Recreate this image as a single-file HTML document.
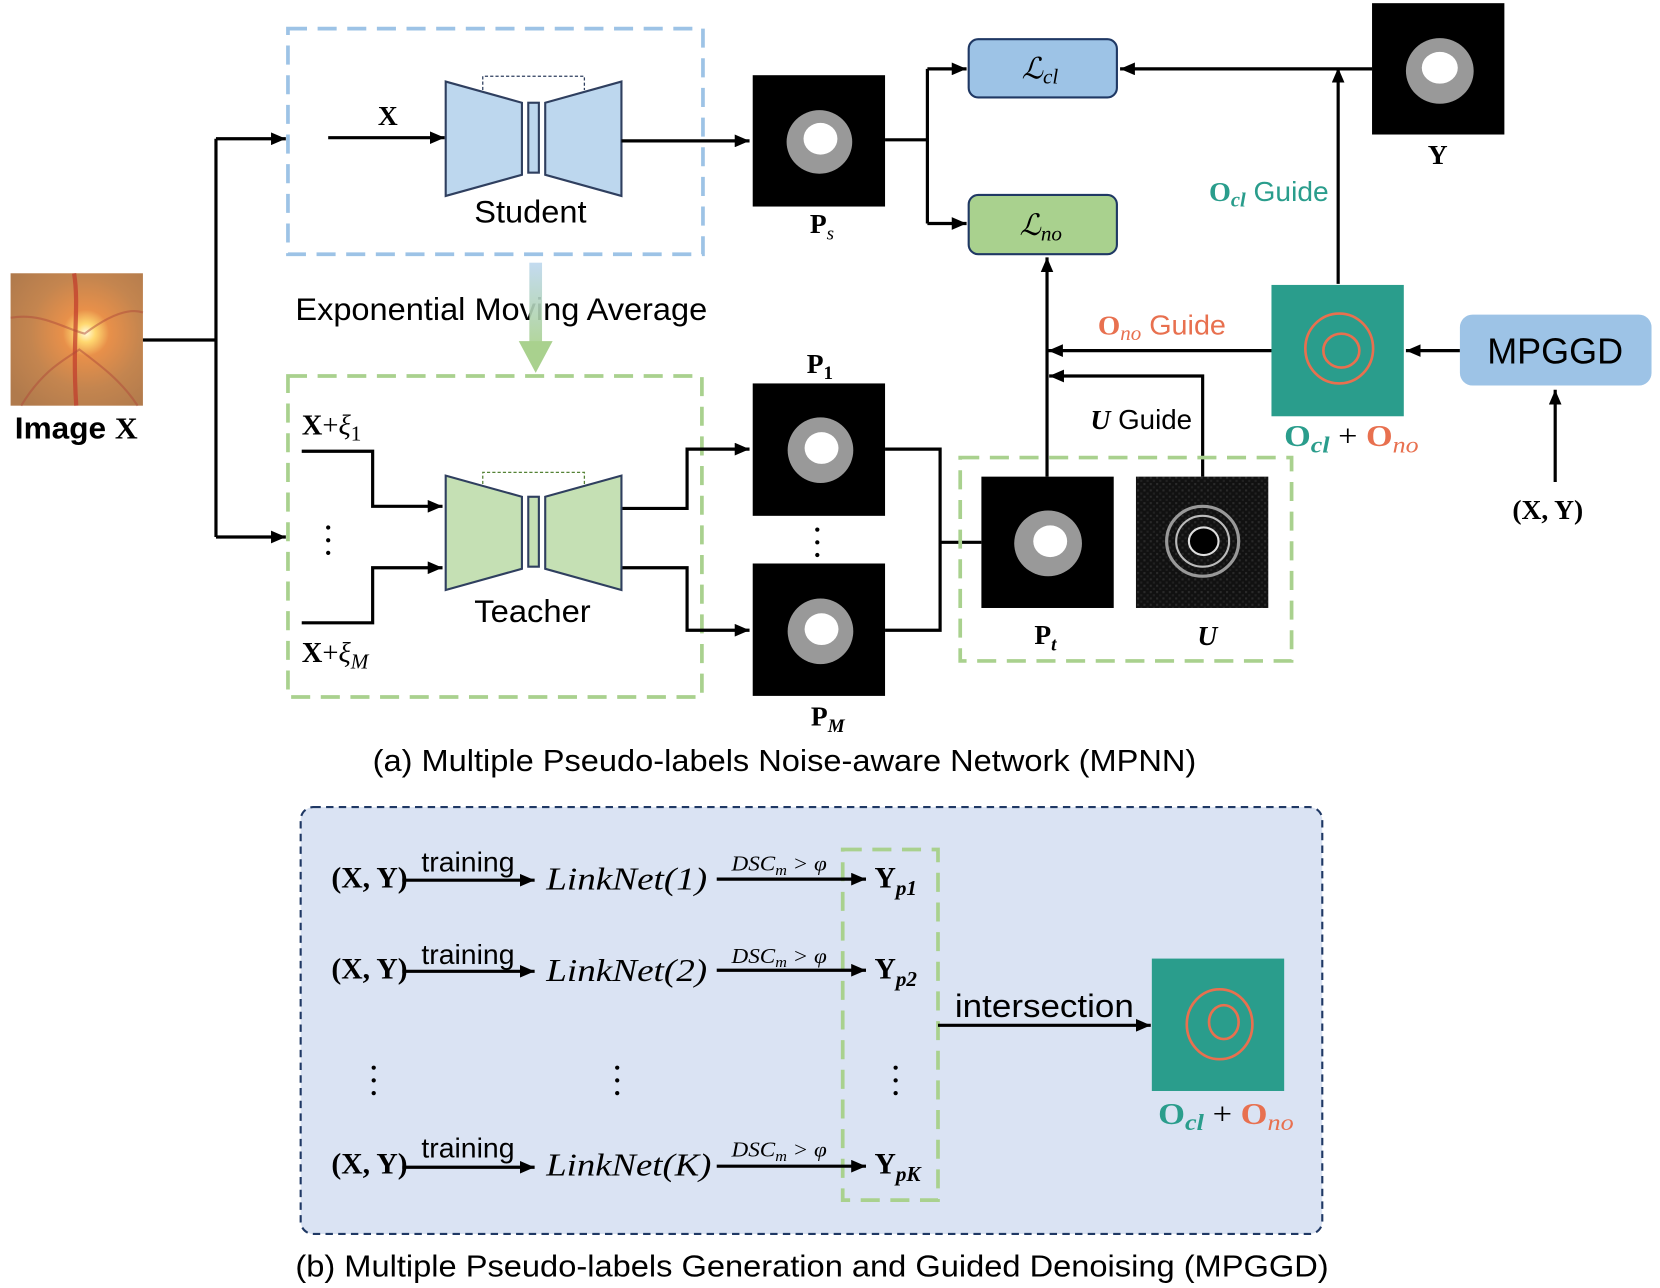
<!DOCTYPE html>
<html><head><meta charset="utf-8"><style>
html,body{margin:0;padding:0;background:#fff;}
svg{display:block}
.s{font-family:"Liberation Sans",sans-serif}
.r{font-family:"Liberation Serif",serif}
</style></head><body>
<svg width="1660" height="1288" viewBox="0 0 1568 1216" preserveAspectRatio="none" xmlns="http://www.w3.org/2000/svg">
<defs>
<marker id="b" viewBox="0 0 14 12" refX="14" refY="6" markerWidth="14" markerHeight="12" orient="auto" markerUnits="userSpaceOnUse"><path d="M0,0 L14,6 L0,12 z" fill="#000"/></marker>
<radialGradient id="fg" cx="0.57" cy="0.45" r="0.7">
<stop offset="0" stop-color="#fffbe0"/><stop offset="0.1" stop-color="#ffd870"/><stop offset="0.25" stop-color="#e8904a"/><stop offset="0.6" stop-color="#c4854f"/><stop offset="1" stop-color="#b07a4c"/></radialGradient>
<linearGradient id="ema" x1="0" y1="0" x2="0" y2="1"><stop offset="0" stop-color="#bdd7ee"/><stop offset="1" stop-color="#a9d18e"/></linearGradient>
<pattern id="noise" width="6" height="6" patternUnits="userSpaceOnUse"><rect width="6" height="6" fill="#111"/><rect x="0" y="0" width="2" height="2" fill="#2a2a2a"/><rect x="3" y="3" width="2" height="2" fill="#222"/></pattern>
</defs>

<rect x="10" y="258" width="125" height="125" fill="url(#fg)"/>
<path d="M70,258 C75,290 68,320 72,383" stroke="#c0392b" stroke-width="4" fill="none" opacity="0.7"/>
<path d="M10,300 C40,295 60,310 80,315 C100,300 120,290 135,295" stroke="#b04a3a" stroke-width="2" fill="none" opacity="0.5"/>
<path d="M20,383 C40,350 60,340 75,330 C95,345 115,360 130,383" stroke="#b04a3a" stroke-width="2" fill="none" opacity="0.5"/>
<text x="14" y="414" class="s" font-size="29" font-weight="bold" textLength="116" lengthAdjust="spacingAndGlyphs">Image <tspan class="r">X</tspan></text>

<g stroke="#000" stroke-width="3" fill="none">
<path d="M135,321 H204 M204,131 V507"/>
<path d="M204,131 H270" marker-end="url(#b)"/>
<path d="M204,507 H270" marker-end="url(#b)"/>
</g>

<rect x="272" y="27" width="392" height="213" fill="none" stroke="#9dc3e6" stroke-width="3.5" stroke-dasharray="18,10"/>
<text x="357" y="118" class="r" font-size="26" font-weight="bold">X</text>
<path d="M310,130 H420" stroke="#000" stroke-width="3" marker-end="url(#b)"/>
<g fill="#bdd7ee" stroke="#2f3f5f" stroke-width="2">
<path d="M421,77 L493,97 L493,165 L421,185 Z"/><rect x="499" y="97" width="10" height="66"/><path d="M515,97 L587,77 L587,185 L515,165 Z"/>
</g>
<path d="M456,85 V72 H552 V85" fill="none" stroke="#2f3f5f" stroke-width="1.2" stroke-dasharray="3,2"/>
<text x="448" y="210" class="s" font-size="30" textLength="106" lengthAdjust="spacingAndGlyphs">Student</text>
<path d="M587,133 H708" stroke="#000" stroke-width="3" marker-end="url(#b)"/>

<rect x="711" y="71" width="125" height="124" fill="#000"/>
<ellipse cx="774" cy="134" rx="31" ry="30" fill="#999"/><ellipse cx="775" cy="131" rx="16" ry="15" fill="#fff"/>
<text x="765" y="220" class="r" font-size="26" font-weight="bold">P<tspan font-size="18" font-style="italic" font-weight="normal" dy="6">s</tspan></text>

<g stroke="#000" stroke-width="3" fill="none">
<path d="M836,132 H876 M876,65 V211"/>
<path d="M876,65 H913" marker-end="url(#b)"/>
<path d="M876,211 H913" marker-end="url(#b)"/>
</g>
<rect x="915" y="37" width="140" height="55" rx="9" fill="#9dc3e6" stroke="#1f3864" stroke-width="2"/>
<text x="965" y="74" class="r" font-size="28" font-style="italic">ℒ<tspan font-size="20" dy="5">cl</tspan></text>
<rect x="915" y="184" width="140" height="56" rx="9" fill="#a9d18e" stroke="#1f3864" stroke-width="2"/>
<text x="963" y="222" class="r" font-size="28" font-style="italic">ℒ<tspan font-size="20" dy="5">no</tspan></text>

<rect x="1296" y="3" width="125" height="124" fill="#000"/>
<ellipse cx="1360" cy="67" rx="32" ry="31" fill="#999"/><ellipse cx="1360" cy="64" rx="17" ry="15" fill="#fff"/>
<text x="1358" y="155" class="r" font-size="26" font-weight="bold" text-anchor="middle">Y</text>
<g stroke="#000" stroke-width="3" fill="none">
<path d="M1296,65 H1058" marker-end="url(#b)"/>
<path d="M1264,268 V64" marker-end="url(#b)"/>
<path d="M1379,331 H1328" marker-end="url(#b)"/>
<path d="M1469,455 V368" marker-end="url(#b)"/>
<path d="M1201,331 H990" marker-end="url(#b)"/>
<path d="M989,450 V243" marker-end="url(#b)"/>
<path d="M1136,450 V355 H991" marker-end="url(#b)"/>
</g>
<text x="1142" y="190" class="s" font-size="26" fill="#2a9d8c" textLength="113" lengthAdjust="spacingAndGlyphs"><tspan class="r" font-weight="bold">O</tspan><tspan class="r" font-weight="bold" font-style="italic" font-size="19" dy="5">cl</tspan><tspan dy="-5"> Guide</tspan></text>
<rect x="1201" y="269" width="125" height="124" fill="#2a9d8c"/>
<ellipse cx="1265" cy="329" rx="32" ry="33" fill="none" stroke="#e8704f" stroke-width="2.5"/>
<ellipse cx="1267" cy="331" rx="17" ry="16" fill="none" stroke="#e8704f" stroke-width="2.5"/>
<text x="1213" y="421" class="r" font-size="29" font-weight="bold" textLength="127" lengthAdjust="spacingAndGlyphs"><tspan fill="#2a9d8c">O</tspan><tspan fill="#2a9d8c" font-style="italic" font-size="22" dy="6">cl</tspan><tspan dy="-6" font-weight="normal"> + </tspan><tspan fill="#e8704f">O</tspan><tspan fill="#e8704f" font-style="italic" font-weight="normal" font-size="22" dy="6">no</tspan></text>
<rect x="1379" y="297" width="181" height="67" rx="12" fill="#9dc3e6"/>
<text x="1469" y="343" class="s" font-size="34" text-anchor="middle">MPGGD</text>
<text x="1462" y="490" class="r" font-size="26" font-weight="bold" text-anchor="middle">(X, Y)</text>
<text x="1037" y="316" class="s" font-size="26" fill="#e8704f" textLength="121" lengthAdjust="spacingAndGlyphs"><tspan class="r" font-weight="bold">O</tspan><tspan class="r" font-style="italic" font-size="19" dy="5">no</tspan><tspan dy="-5"> Guide</tspan></text>
<text x="1030" y="405" class="s" font-size="26" textLength="96" lengthAdjust="spacingAndGlyphs"><tspan class="r" font-weight="bold" font-style="italic">U</tspan> Guide</text>

<text x="279" y="302" class="s" font-size="30" textLength="389" lengthAdjust="spacingAndGlyphs">Exponential Moving Average</text>
<rect x="500" y="248" width="12" height="80" fill="url(#ema)" opacity="0.9"/>
<path d="M490,322 L522,322 L506,352 Z" fill="#a9d18e"/>

<rect x="272" y="355" width="391" height="303" fill="none" stroke="#a9d18e" stroke-width="3.5" stroke-dasharray="18,10"/>
<text x="285" y="410" class="r" font-size="27"><tspan font-weight="bold">X</tspan>+<tspan font-style="italic">ξ</tspan><tspan font-size="20" dy="6">1</tspan></text>
<text x="285" y="625" class="r" font-size="27"><tspan font-weight="bold">X</tspan>+<tspan font-style="italic">ξ</tspan><tspan font-size="20" font-style="italic" dy="6">M</tspan></text>
<g fill="#000"><circle cx="310" cy="498" r="2"/><circle cx="310" cy="510" r="2"/><circle cx="310" cy="522" r="2"/>
<circle cx="772" cy="500" r="2"/><circle cx="772" cy="512" r="2"/><circle cx="772" cy="524" r="2"/></g>
<g stroke="#000" stroke-width="3" fill="none">
<path d="M285,426 H352 V478 H418" marker-end="url(#b)"/>
<path d="M285,588 H352 V536 H418" marker-end="url(#b)"/>
<path d="M587,480 H649 V424 H708" marker-end="url(#b)"/>
<path d="M587,536 H649 V595 H708" marker-end="url(#b)"/>
<path d="M836,424 H888 V595 H836 M888,512 H927"/>
</g>
<g fill="#c5e0b4" stroke="#2f3f5f" stroke-width="2">
<path d="M421,449 L493,469 L493,537 L421,557 Z"/><rect x="499" y="469" width="10" height="66"/><path d="M515,469 L587,449 L587,557 L515,537 Z"/>
</g>
<path d="M456,457 V446 H552 V457" fill="none" stroke="#548235" stroke-width="1.2" stroke-dasharray="3,2"/>
<text x="448" y="587" class="s" font-size="30" textLength="110" lengthAdjust="spacingAndGlyphs">Teacher</text>

<rect x="711" y="362" width="125" height="125" fill="#000"/>
<ellipse cx="775" cy="425" rx="31" ry="31" fill="#999"/><ellipse cx="776" cy="423" rx="16" ry="15" fill="#fff"/>
<text x="762" y="352" class="r" font-size="26" font-weight="bold">P<tspan font-size="18" dy="6">1</tspan></text>
<rect x="711" y="532" width="125" height="125" fill="#000"/>
<ellipse cx="775" cy="596" rx="31" ry="31" fill="#999"/><ellipse cx="776" cy="594" rx="16" ry="15" fill="#fff"/>
<text x="766" y="685" class="r" font-size="26" font-weight="bold">P<tspan font-size="18" font-style="italic" dy="6">M</tspan></text>

<rect x="907" y="432" width="313" height="192" fill="none" stroke="#a9d18e" stroke-width="3.5" stroke-dasharray="18,10"/>
<rect x="927" y="450" width="125" height="124" fill="#000"/>
<ellipse cx="990" cy="513" rx="32" ry="31" fill="#999"/><ellipse cx="992" cy="511" rx="16" ry="15" fill="#fff"/>
<rect x="1073" y="450" width="125" height="124" fill="url(#noise)"/>
<ellipse cx="1136" cy="511" rx="34" ry="33" fill="none" stroke="#999" stroke-width="3"/>
<ellipse cx="1136" cy="511" rx="25" ry="24" fill="none" stroke="#bbb" stroke-width="2"/>
<ellipse cx="1137" cy="511" rx="14" ry="13" fill="#000" stroke="#ddd" stroke-width="2"/>
<text x="977" y="608" class="r" font-size="26" font-weight="bold">P<tspan font-size="18" font-style="italic" dy="6">t</tspan></text>
<text x="1131" y="609" class="r" font-size="26" font-weight="bold" font-style="italic">U</text>

<text x="352" y="728" class="s" font-size="29" textLength="778" lengthAdjust="spacingAndGlyphs">(a) Multiple Pseudo-labels Noise-aware Network (MPNN)</text>

<rect x="284" y="762" width="965" height="403" rx="12" fill="#dae3f3" stroke="#1f3864" stroke-width="2" stroke-dasharray="7,5"/>
<rect x="796" y="802" width="90" height="331" fill="none" stroke="#a9d18e" stroke-width="3.5" stroke-dasharray="18,10"/>
<g class="r" font-size="28">
<text x="313" y="838" font-weight="bold">(X, Y)</text>
<text x="313" y="924" font-weight="bold">(X, Y)</text>
<text x="313" y="1108" font-weight="bold">(X, Y)</text>
<text x="516" y="840" font-style="italic" font-size="30" textLength="152" lengthAdjust="spacingAndGlyphs">LinkNet(1)</text>
<text x="516" y="926" font-style="italic" font-size="30" textLength="152" lengthAdjust="spacingAndGlyphs">LinkNet(2)</text>
<text x="516" y="1110" font-style="italic" font-size="30" textLength="156" lengthAdjust="spacingAndGlyphs">LinkNet(K)</text>
<text x="826" y="838" font-weight="bold">Y<tspan font-size="20" font-style="italic" dy="7">p1</tspan></text>
<text x="826" y="924" font-weight="bold">Y<tspan font-size="20" font-style="italic" dy="7">p2</tspan></text>
<text x="826" y="1108" font-weight="bold">Y<tspan font-size="20" font-style="italic" dy="7">pK</tspan></text>
</g>
<g class="s" font-size="26">
<text x="398" y="823" textLength="88" lengthAdjust="spacingAndGlyphs">training</text><text x="398" y="910" textLength="88" lengthAdjust="spacingAndGlyphs">training</text><text x="398" y="1093" textLength="88" lengthAdjust="spacingAndGlyphs">training</text>
</g>
<g class="r" font-size="20" font-style="italic">
<text x="691" y="822" textLength="90" lengthAdjust="spacingAndGlyphs">DSC<tspan font-size="14" dy="4">m</tspan><tspan dy="-4"> &gt; φ</tspan></text>
<text x="691" y="909" textLength="90" lengthAdjust="spacingAndGlyphs">DSC<tspan font-size="14" dy="4">m</tspan><tspan dy="-4"> &gt; φ</tspan></text>
<text x="691" y="1092" textLength="90" lengthAdjust="spacingAndGlyphs">DSC<tspan font-size="14" dy="4">m</tspan><tspan dy="-4"> &gt; φ</tspan></text>
</g>
<g stroke="#000" stroke-width="3" fill="none">
<path d="M380,831 H505" marker-end="url(#b)"/><path d="M380,917 H505" marker-end="url(#b)"/><path d="M380,1102 H505" marker-end="url(#b)"/>
<path d="M677,830 H818" marker-end="url(#b)"/><path d="M677,916 H818" marker-end="url(#b)"/><path d="M677,1101 H818" marker-end="url(#b)"/>
<path d="M886,968 H1087" marker-end="url(#b)"/>
</g>
<g fill="#000">
<circle cx="353" cy="1008" r="2"/><circle cx="353" cy="1020" r="2"/><circle cx="353" cy="1032" r="2"/>
<circle cx="583" cy="1008" r="2"/><circle cx="583" cy="1020" r="2"/><circle cx="583" cy="1032" r="2"/>
<circle cx="846" cy="1008" r="2"/><circle cx="846" cy="1020" r="2"/><circle cx="846" cy="1032" r="2"/>
</g>
<text x="902" y="960" class="s" font-size="31" textLength="169" lengthAdjust="spacingAndGlyphs">intersection</text>
<rect x="1088" y="905" width="125" height="125" fill="#2a9d8c"/>
<ellipse cx="1152" cy="967" rx="31" ry="33" fill="none" stroke="#e8704f" stroke-width="2.5"/>
<ellipse cx="1156" cy="965" rx="14" ry="16" fill="none" stroke="#e8704f" stroke-width="2.5"/>
<text x="1094" y="1061" class="r" font-size="29" font-weight="bold" textLength="128" lengthAdjust="spacingAndGlyphs"><tspan fill="#2a9d8c">O</tspan><tspan fill="#2a9d8c" font-style="italic" font-size="22" dy="6">cl</tspan><tspan dy="-6" font-weight="normal"> + </tspan><tspan fill="#e8704f">O</tspan><tspan fill="#e8704f" font-style="italic" font-weight="normal" font-size="22" dy="6">no</tspan></text>

<text x="279" y="1205" class="s" font-size="29" textLength="976" lengthAdjust="spacingAndGlyphs">(b) Multiple Pseudo-labels Generation and Guided Denoising (MPGGD)</text>
</svg>
</body></html>
